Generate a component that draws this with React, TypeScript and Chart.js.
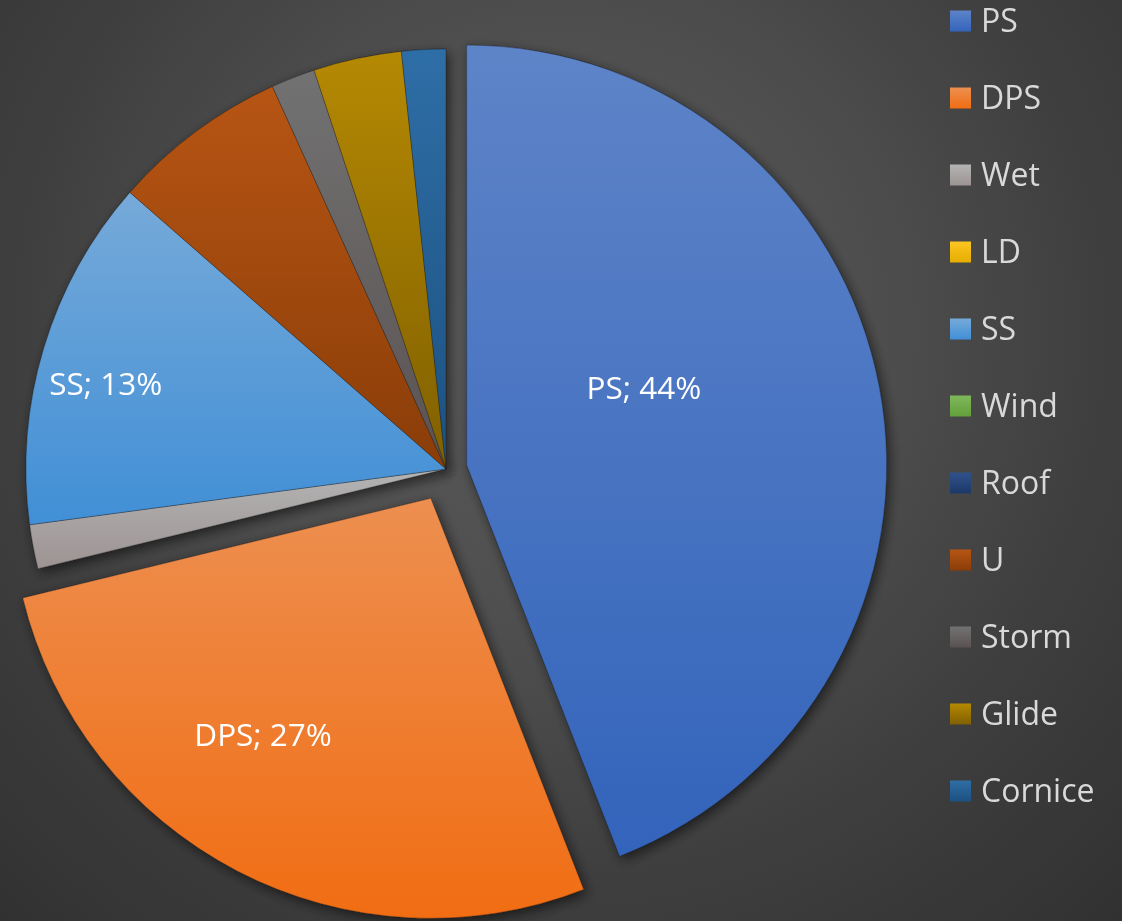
import React, { useEffect, useRef } from "react";
import { Chart, registerables } from "chart.js";

Chart.register(...registerables);

// ---- data ----
const categories = ["PS", "DPS", "Wet", "LD", "SS", "Wind", "Roof", "U", "Storm", "Glide", "Cornice"];
const counts = [26, 16, 1, 0, 8, 0, 0, 4, 1, 2, 1];
const sliceColors = [
  "#4472C4", "#ED7D31", "#A5A5A5", "#FFC000", "#5B9BD5", "#70AD47",
  "#264478", "#9E480E", "#636363", "#997300", "#255E91",
];

// ---- styling ----
const explodeOffsets = [21, 33, 0, 0, 0, 0, 0, 0, 0, 0, 0];
const labelMinShare = 0.1;
const labelPlacement: Record<string, { r: number; shift: number }> = {
  PS: { r: 0.46, shift: -12.7 },
  DPS: { r: 0.69, shift: 7.9 },
  SS: { r: 0.835, shift: -2.7 },
};
const FONT = "'Open Sans', 'Noto Sans', sans-serif";

function hexToRgb(h: string) {
  const n = parseInt(h.slice(1), 16);
  return [(n >> 16) & 255, (n >> 8) & 255, n & 255];
}
function rgbToHsl(r: number, g: number, b: number) {
  r /= 255; g /= 255; b /= 255;
  const max = Math.max(r, g, b), min = Math.min(r, g, b);
  const l = (max + min) / 2;
  let h = 0, s = 0;
  if (max !== min) {
    const d = max - min;
    s = l > 0.5 ? d / (2 - max - min) : d / (max + min);
    if (max === r) h = ((g - b) / d + (g < b ? 6 : 0));
    else if (max === g) h = (b - r) / d + 2;
    else h = (r - g) / d + 4;
    h *= 60;
  }
  return [h, s, l];
}
function hslToRgb(h: number, s: number, l: number) {
  const c = (1 - Math.abs(2 * l - 1)) * s;
  const x = c * (1 - Math.abs(((h / 60) % 2) - 1));
  const m = l - c / 2;
  let r = 0, g = 0, b = 0;
  if (h < 60) [r, g, b] = [c, x, 0];
  else if (h < 120) [r, g, b] = [x, c, 0];
  else if (h < 180) [r, g, b] = [0, c, x];
  else if (h < 240) [r, g, b] = [0, x, c];
  else if (h < 300) [r, g, b] = [x, 0, c];
  else [r, g, b] = [c, 0, x];
  return [Math.round((r + m) * 255), Math.round((g + m) * 255), Math.round((b + m) * 255)];
}
function tone(hex: string, dl: number, ds: number) {
  const [r, g, b] = hexToRgb(hex);
  const [h, s, l] = rgbToHsl(r, g, b);
  const clamp = (v: number) => Math.max(0, Math.min(1, v));
  const [R, G, B] = hslToRgb(h, clamp(s + ds), clamp(l + dl));
  return `rgb(${R},${G},${B})`;
}
function wedgeYRange(x: number, y: number, r: number, a0: number, a1: number) {
  const ys = [y, y + r * Math.sin(a0), y + r * Math.sin(a1)];
  for (let k = -4; k <= 8; k++) {
    const a = (k * Math.PI) / 2;
    if (a > a0 && a < a1) ys.push(y + r * Math.sin(a));
  }
  return [Math.min(...ys), Math.max(...ys)];
}
function gradientFor(ctx: CanvasRenderingContext2D, hex: string, top: number, bottom: number) {
  const g = ctx.createLinearGradient(0, top, 0, bottom);
  g.addColorStop(0, tone(hex, 0.06, -0.03));
  g.addColorStop(1, tone(hex, -0.05, 0.05));
  return g;
}

const excelPie = {
  id: "excelPie",
  beforeDraw(chart: any) {
    const { ctx, width, height } = chart;
    ctx.save();
    const g = ctx.createRadialGradient(560, 330, 0, 560, 330, 820);
    g.addColorStop(0, "#5a5a5a");
    g.addColorStop(0.38, "#4e4e4e");
    g.addColorStop(0.68, "#3e3e3e");
    g.addColorStop(1, "#313131");
    ctx.fillStyle = g;
    ctx.fillRect(0, 0, width, height);
    ctx.restore();
  },
  afterDatasetsUpdate(chart: any) {
    const meta = chart.getDatasetMeta(0);
    meta.data.forEach((el: any, i: number) => {
      const mid = (el.startAngle + el.endAngle) / 2;
      const d = explodeOffsets[i] || 0;
      el.x += Math.cos(mid) * d;
      el.y += Math.sin(mid) * d;
      const [top, bottom] = wedgeYRange(el.x, el.y, el.outerRadius, el.startAngle, el.endAngle);
      el.options = { ...el.options, backgroundColor: gradientFor(chart.ctx, sliceColors[i], top, bottom) };
    });
  },
  beforeDatasetsDraw(chart: any) {
    const ctx = chart.ctx;
    ctx.save();
    ctx.shadowColor = "rgba(0,0,0,0.55)";
    ctx.shadowBlur = 12;
    ctx.shadowOffsetX = 3;
    ctx.shadowOffsetY = 4;
    chart.getDatasetMeta(0).data.forEach((el: any) => el.draw(ctx));
    ctx.restore();
  },
  afterDatasetsDraw(chart: any) {
    const ctx = chart.ctx;
    const total = counts.reduce((a, b) => a + b, 0);
    const meta = chart.getDatasetMeta(0);
    ctx.save();
    const size = 31.5;
    ctx.font = `${size}px ${FONT}`;
    ctx.fillStyle = "#ffffff";
    ctx.textAlign = "center";
    ctx.textBaseline = "alphabetic";
    meta.data.forEach((el: any, i: number) => {
      const share = counts[i] / total;
      if (share < labelMinShare) return;
      const p = labelPlacement[categories[i]] || { r: 0.6, shift: 0 };
      const a = (el.startAngle + el.endAngle) / 2 + (p.shift * Math.PI) / 180;
      const lx = el.x + Math.cos(a) * el.outerRadius * p.r;
      const ly = el.y + Math.sin(a) * el.outerRadius * p.r;
      ctx.fillText(`${categories[i]}; ${Math.floor(share * 100)}%`, lx, ly + (size * 0.7) / 2);
    });
    ctx.restore();
  },
  afterDraw(chart: any) {
    const ctx = chart.ctx;
    const size = 32;
    const boxX = 950, box = 21, textX = 981, firstY = 21, step = 77;
    ctx.save();
    ctx.font = `${size}px ${FONT}`;
    ctx.textAlign = "left";
    ctx.textBaseline = "alphabetic";
    categories.forEach((cat, i) => {
      const cy = firstY + step * i;
      ctx.fillStyle = gradientFor(ctx, sliceColors[i], cy - box / 2, cy + box / 2);
      ctx.fillRect(boxX, cy - box / 2, box, box);
      ctx.fillStyle = "#d9d9d9";
      ctx.fillText(cat, textX, cy + (size * 0.714) / 2);
    });
    ctx.restore();
  },
};

export default function App() {
  const ref = useRef<HTMLCanvasElement | null>(null);
  useEffect(() => {
    document.body.style.margin = "0";
    document.body.style.overflow = "hidden";
    const canvas = ref.current!;
    const chart = new Chart(canvas, {
      type: "pie",
      data: {
        labels: categories,
        datasets: [
          {
            data: counts,
            backgroundColor: sliceColors,
            borderWidth: 1,
            borderColor: "rgba(30,30,30,0.35)",
          },
        ],
      },
      options: {
        responsive: false,
        animation: false,
        events: [],
        radius: 420,
        layout: { padding: { left: 0, right: 230, top: 17, bottom: 0 } },
        plugins: {
          legend: { display: false },
          tooltip: { enabled: false },
          title: { display: false },
        },
      } as any,
      plugins: [excelPie],
    });
    return () => chart.destroy();
  }, []);
  return (
    <div style={{ width: 1122, height: 921 }}>
      <canvas ref={ref} width={1122} height={921} style={{ display: "block" }} />
    </div>
  );
}
